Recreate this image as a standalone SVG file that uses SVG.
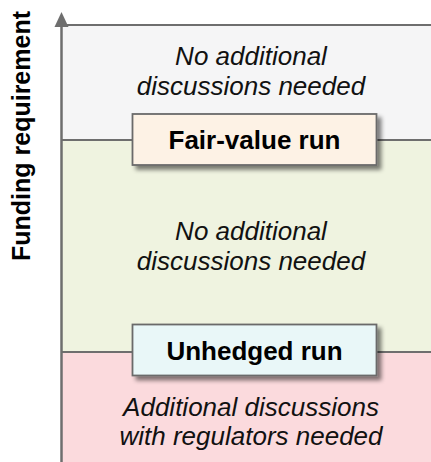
<svg xmlns="http://www.w3.org/2000/svg" width="431" height="462" viewBox="0 0 431 462">
<defs>
<style>
.band{stroke:none}
.sep{stroke:#6e6e6e;stroke-width:2;fill:none}
.lbl{font-family:"Liberation Sans",Arial,sans-serif;font-size:26px;font-style:italic;fill:#111;text-anchor:middle}
.box{stroke:#6b6b6b;stroke-width:1.8}
.boxt{font-family:"Liberation Sans",Arial,sans-serif;font-size:26px;font-weight:bold;fill:#000;text-anchor:middle}
.ax{font-family:"Liberation Sans",Arial,sans-serif;font-size:25px;font-weight:bold;fill:#000;text-anchor:middle}
</style>
<filter id="sh" x="-10%" y="-20%" width="130%" height="160%">
<feGaussianBlur in="SourceAlpha" stdDeviation="2"/>
<feOffset dx="4" dy="4" result="b"/>
<feComponentTransfer><feFuncA type="linear" slope="0.5"/></feComponentTransfer>
<feMerge><feMergeNode/><feMergeNode in="SourceGraphic"/></feMerge>
</filter>
</defs>
<rect width="431" height="462" fill="#ffffff"/>
<g id="bands">
<rect class="band" x="62" y="25" width="369" height="115" fill="#f5f5f6"/>
<rect class="band" x="62" y="140" width="369" height="212" fill="#eff3e0"/>
<rect class="band" x="62" y="352" width="369" height="110" fill="#fbdadd"/>
</g>
<g id="connectors">
<line class="sep" x1="61" y1="25" x2="431" y2="25"/>
<line class="sep" x1="61" y1="140" x2="431" y2="140"/>
<line class="sep" x1="61" y1="352" x2="431" y2="352"/>
<path d="M61.5,462 L61.5,24" stroke="#6e6e6e" stroke-width="2.5" fill="none"/>
<path d="M61.5,12 L68.5,27 L54.5,27 z" fill="#6e6e6e"/>
</g>
<g id="axis-label">
<text class="ax" transform="translate(30,136) rotate(-90)">Funding requirement</text>
</g>
<g id="zone-top">
<text class="lbl" x="251" y="65">No additional</text>
<text class="lbl" x="251" y="95">discussions needed</text>
</g>
<g id="zone-middle">
<text class="lbl" x="251" y="240">No additional</text>
<text class="lbl" x="251" y="270">discussions needed</text>
</g>
<g id="zone-bottom">
<text class="lbl" x="251" y="416">Additional discussions</text>
<text class="lbl" x="251" y="445">with regulators needed</text>
</g>
<g id="fair-value-run">
<rect class="box" x="132.5" y="114" width="244" height="51" fill="#fdf2e5" filter="url(#sh)"/>
<text class="boxt" x="254.5" y="149">Fair-value run</text>
</g>
<g id="unhedged-run">
<rect class="box" x="132.5" y="324.5" width="244" height="51" fill="#e9f7f8" filter="url(#sh)"/>
<text class="boxt" x="254.5" y="359.5">Unhedged run</text>
</g>
</svg>
